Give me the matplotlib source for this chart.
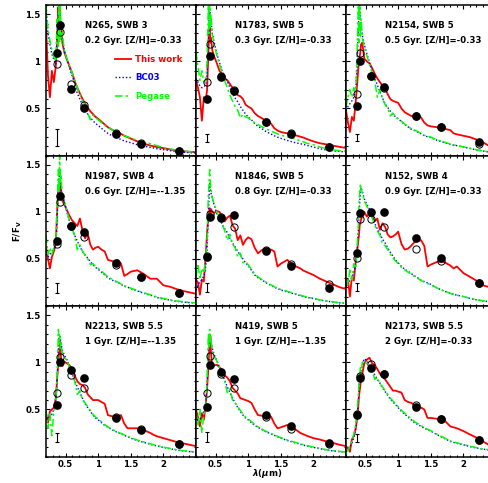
import matplotlib.pyplot as plt
from matplotlib.ticker import MultipleLocator

plt.rcParams['font.family'] = 'DejaVu Sans'
plt.rcParams['font.weight'] = 'bold'
plt.rcParams['font.size'] = 6.2
plt.rcParams['mathtext.fontset'] = 'custom'
plt.rcParams['mathtext.rm'] = 'DejaVu Sans:bold'
plt.rcParams['mathtext.it'] = 'DejaVu Sans:italic:bold'

# wavelength grid (micron) shared by all model curves
wave = [0.20, 0.23, 0.26, 0.29, 0.32, 0.35,
        0.37, 0.39, 0.40, 0.41, 0.42, 0.43,
        0.45, 0.48, 0.52, 0.56, 0.60, 0.64,
        0.68, 0.72, 0.76, 0.80, 0.84, 0.88,
        0.92, 0.96, 1.00, 1.05, 1.10, 1.15,
        1.20, 1.25, 1.30, 1.35, 1.40, 1.45,
        1.50, 1.60, 1.70, 1.80, 1.85, 1.90,
        2.00, 2.10, 2.20, 2.30, 2.40, 2.50]

# U B V I J H K
band_wave = [0.365, 0.42, 0.59, 0.775, 1.28, 1.65, 2.24]

# N265
n265_red = [1.40, 0.85, 0.62, 0.90, 0.78, 0.95, 1.20, 1.58, 1.45, 1.55, 1.35, 1.40,
            1.20, 1.10, 1.02, 0.95, 0.88, 0.79, 0.72, 0.66, 0.60, 0.55, 0.51, 0.47,
            0.44, 0.41, 0.39, 0.36, 0.33, 0.30, 0.28, 0.26, 0.245, 0.23, 0.21, 0.195,
            0.18, 0.15, 0.125, 0.106, 0.098, 0.09, 0.078, 0.065, 0.053, 0.045, 0.04, 0.035]
n265_bc03 = [1.55, 1.30, 1.18, 1.08, 1.02, 0.97, 1.30, 1.50, 1.55, 1.50, 1.45, 1.38,
             1.25, 1.12, 1.02, 0.93, 0.85, 0.76, 0.66, 0.60, 0.53, 0.48, 0.44, 0.40,
             0.37, 0.34, 0.32, 0.29, 0.26, 0.235, 0.215, 0.20, 0.185, 0.17, 0.155, 0.145,
             0.135, 0.115, 0.10, 0.085, 0.08, 0.072, 0.062, 0.052, 0.042, 0.036, 0.03, 0.026]
n265_peg = [1.60, 1.35, 1.22, 1.12, 1.05, 1.00, 1.45, 1.15, 1.60, 1.20, 1.60, 1.25,
            1.30, 1.12, 1.03, 0.95, 0.88, 0.80, 0.72, 0.65, 0.58, 0.54, 0.45, 0.38,
            0.43, 0.40, 0.38, 0.35, 0.32, 0.30, 0.28, 0.26, 0.245, 0.23, 0.21, 0.20,
            0.185, 0.16, 0.14, 0.125, 0.115, 0.105, 0.085, 0.07, 0.057, 0.048, 0.04, 0.035]
n265_obs = [1.09, 1.39, 0.71, 0.51, 0.23, 0.124, 0.046]
n265_mod = [0.975, 1.31, 0.755, 0.54, 0.235, 0.128, 0.05]

# N1783
n1783_red = [0.80, 0.72, 0.62, 0.37, 0.62, 0.58, 0.70, 1.10, 1.30, 1.38, 1.20, 1.25,
             1.12, 1.05, 0.98, 0.90, 0.86, 0.82, 0.80, 0.76, 0.72, 0.68, 0.64, 0.63,
             0.60, 0.54, 0.52, 0.50, 0.45, 0.42, 0.40, 0.38, 0.365, 0.34, 0.29, 0.265,
             0.25, 0.235, 0.22, 0.20, 0.19, 0.175, 0.15, 0.13, 0.118, 0.105, 0.092, 0.08]
n1783_bc03 = [0.82, 0.78, 0.74, 0.72, 0.73, 0.75, 0.85, 1.25, 1.45, 1.55, 1.50, 1.42,
              1.30, 1.20, 1.08, 0.99, 0.90, 0.84, 0.79, 0.72, 0.66, 0.61, 0.57, 0.52,
              0.48, 0.44, 0.41, 0.38, 0.34, 0.31, 0.29, 0.265, 0.245, 0.228, 0.21, 0.195,
              0.183, 0.16, 0.14, 0.125, 0.117, 0.108, 0.09, 0.072, 0.058, 0.05, 0.043, 0.038]
n1783_peg = [1.10, 0.95, 0.80, 0.90, 0.78, 0.80, 1.00, 1.60, 1.30, 1.60, 1.35, 1.50,
             1.28, 1.18, 1.06, 0.97, 0.88, 0.80, 0.72, 0.64, 0.58, 0.52, 0.48, 0.40,
             0.44, 0.41, 0.40, 0.37, 0.35, 0.33, 0.31, 0.29, 0.275, 0.26, 0.245, 0.23,
             0.215, 0.20, 0.18, 0.155, 0.145, 0.13, 0.115, 0.09, 0.075, 0.06, 0.05, 0.045]
n1783_obs = [0.60, 1.06, 0.83, 0.69, 0.355, 0.23, 0.089]
n1783_mod = [0.78, 1.19, 0.84, 0.70, 0.36, 0.235, 0.092]

# N2154
n2154_red = [0.48, 0.35, 0.25, 0.41, 0.37, 0.58, 0.75, 0.94, 0.98, 1.05, 1.10, 1.18,
             1.20, 1.03, 1.00, 0.98, 0.93, 0.87, 0.82, 0.78, 0.74, 0.71, 0.65, 0.60,
             0.58, 0.57, 0.56, 0.50, 0.46, 0.44, 0.42, 0.415, 0.41, 0.405, 0.35, 0.32,
             0.31, 0.30, 0.285, 0.27, 0.235, 0.225, 0.21, 0.195, 0.17, 0.14, 0.10, 0.085]
n2154_bc03 = [0.48, 0.52, 0.55, 0.58, 0.62, 0.72, 0.95, 1.35, 1.55, 1.60, 1.50, 1.40,
              1.28, 1.18, 1.08, 0.99, 0.90, 0.82, 0.75, 0.68, 0.61, 0.55, 0.51, 0.47,
              0.44, 0.41, 0.39, 0.36, 0.33, 0.305, 0.28, 0.265, 0.25, 0.23, 0.21, 0.20,
              0.19, 0.16, 0.14, 0.117, 0.11, 0.105, 0.09, 0.075, 0.06, 0.048, 0.035, 0.03]
n2154_peg = [0.51, 0.62, 0.70, 0.62, 0.72, 0.68, 1.10, 1.60, 1.20, 1.60, 1.25, 1.45,
             1.25, 1.15, 1.06, 0.97, 0.88, 0.80, 0.62, 0.70, 0.60, 0.54, 0.50, 0.42,
             0.45, 0.41, 0.39, 0.365, 0.335, 0.31, 0.285, 0.27, 0.255, 0.235, 0.215, 0.205,
             0.195, 0.165, 0.145, 0.12, 0.112, 0.106, 0.092, 0.077, 0.062, 0.05, 0.038, 0.032]
n2154_obs = [0.53, 1.00, 0.85, 0.73, 0.42, 0.30, 0.14]
n2154_mod = [0.65, 1.09, 0.85, 0.72, 0.42, 0.30, 0.117]

# N1987
n1987_red = [0.62, 0.50, 0.40, 0.52, 0.58, 0.66, 1.00, 1.25, 1.30, 1.35, 1.15, 1.25,
             1.12, 1.08, 1.02, 0.96, 0.91, 0.88, 0.85, 0.93, 0.80, 0.72, 0.77, 0.65,
             0.60, 0.62, 0.63, 0.60, 0.58, 0.49, 0.48, 0.47, 0.49, 0.45, 0.32, 0.34,
             0.365, 0.38, 0.34, 0.29, 0.29, 0.29, 0.22, 0.205, 0.18, 0.16, 0.145, 0.13]
n1987_bc03 = [0.55, 0.52, 0.55, 0.58, 0.60, 0.63, 0.90, 1.30, 1.40, 1.38, 1.30, 1.25,
              1.18, 1.12, 1.00, 0.90, 0.82, 0.75, 0.69, 0.63, 0.58, 0.54, 0.51, 0.47,
              0.44, 0.41, 0.39, 0.36, 0.33, 0.30, 0.28, 0.265, 0.25, 0.23, 0.21, 0.20,
              0.185, 0.16, 0.135, 0.115, 0.105, 0.09, 0.075, 0.062, 0.05, 0.042, 0.036, 0.032]
n1987_peg = [0.75, 0.55, 0.62, 0.55, 0.62, 0.65, 1.05, 1.45, 1.20, 1.60, 1.30, 1.40,
             1.15, 1.10, 1.01, 0.91, 0.83, 0.74, 0.60, 0.65, 0.58, 0.54, 0.50, 0.44,
             0.45, 0.42, 0.40, 0.37, 0.34, 0.31, 0.29, 0.27, 0.255, 0.235, 0.215, 0.205,
             0.19, 0.165, 0.14, 0.12, 0.11, 0.095, 0.08, 0.066, 0.054, 0.045, 0.038, 0.034]
n1987_obs = [0.695, 1.17, 0.85, 0.79, 0.454, 0.31, 0.135]
n1987_mod = [0.656, 1.11, 0.85, 0.73, 0.436, 0.31, 0.135]

# N1846
n1846_red = [0.28, 0.25, 0.12, 0.28, 0.26, 0.55, 0.78, 0.95, 1.00, 1.04, 0.98, 1.03,
             1.00, 0.99, 1.01, 1.00, 0.95, 0.90, 0.94, 0.96, 0.86, 0.82, 0.70, 0.75,
             0.65, 0.70, 0.73, 0.71, 0.62, 0.56, 0.59, 0.61, 0.60, 0.60, 0.58, 0.42,
             0.45, 0.49, 0.43, 0.40, 0.375, 0.36, 0.33, 0.29, 0.26, 0.23, 0.20, 0.18]
n1846_bc03 = [0.17, 0.22, 0.26, 0.28, 0.32, 0.42, 0.60, 1.00, 1.15, 1.30, 1.25, 1.20,
              1.15, 1.07, 0.98, 0.93, 0.87, 0.82, 0.78, 0.72, 0.67, 0.63, 0.58, 0.54,
              0.50, 0.46, 0.43, 0.38, 0.33, 0.30, 0.28, 0.26, 0.235, 0.22, 0.20, 0.185,
              0.17, 0.15, 0.13, 0.11, 0.10, 0.09, 0.08, 0.064, 0.052, 0.042, 0.033, 0.03]
n1846_peg = [0.30, 0.45, 0.28, 0.40, 0.35, 0.50, 0.70, 1.20, 1.30, 1.45, 1.30, 1.25,
             1.15, 1.08, 1.00, 0.94, 0.88, 0.80, 0.70, 0.76, 0.66, 0.62, 0.52, 0.56,
             0.46, 0.47, 0.44, 0.39, 0.34, 0.31, 0.285, 0.265, 0.24, 0.225, 0.205, 0.19,
             0.175, 0.155, 0.135, 0.115, 0.105, 0.095, 0.082, 0.066, 0.054, 0.044, 0.035, 0.031]
n1846_obs = [0.52, 0.95, 0.94, 0.97, 0.58, 0.42, 0.19]
n1846_mod = [0.53, 0.975, 0.95, 0.84, 0.60, 0.45, 0.23]

# N152
n152_red = [0.20, 0.28, 0.10, 0.31, 0.27, 0.48, 0.58, 0.70, 0.76, 0.86, 0.88, 0.92,
            0.96, 1.00, 0.95, 0.99, 0.95, 0.90, 0.93, 0.81, 0.88, 0.84, 0.76, 0.73,
            0.74, 0.76, 0.79, 0.66, 0.60, 0.61, 0.64, 0.68, 0.69, 0.70, 0.64, 0.42,
            0.44, 0.47, 0.47, 0.43, 0.40, 0.42, 0.35, 0.31, 0.27, 0.22, 0.20, 0.18]
n152_bc03 = [0.24, 0.25, 0.27, 0.30, 0.36, 0.45, 0.58, 0.80, 0.95, 1.10, 1.20, 1.26,
             1.22, 1.14, 1.08, 1.03, 0.96, 0.88, 0.82, 0.77, 0.71, 0.67, 0.62, 0.57,
             0.53, 0.49, 0.46, 0.42, 0.39, 0.37, 0.345, 0.32, 0.30, 0.275, 0.26, 0.245,
             0.23, 0.19, 0.16, 0.135, 0.125, 0.115, 0.10, 0.08, 0.065, 0.055, 0.045, 0.04]
n152_peg = [0.30, 0.22, 0.40, 0.28, 0.45, 0.40, 0.62, 0.85, 1.10, 1.20, 1.30, 1.25,
            1.20, 1.12, 1.06, 1.01, 0.94, 0.86, 0.80, 0.75, 0.66, 0.64, 0.60, 0.55,
            0.51, 0.48, 0.45, 0.41, 0.385, 0.36, 0.34, 0.315, 0.295, 0.27, 0.255, 0.24,
            0.225, 0.19, 0.16, 0.135, 0.125, 0.115, 0.10, 0.082, 0.067, 0.056, 0.046, 0.041]
n152_obs = [0.567, 0.986, 0.996, 0.996, 0.727, 0.507, 0.248]
n152_mod = [0.514, 0.93, 0.93, 0.84, 0.606, 0.48, 0.24]

# N2213
n2213_red = [0.46, 0.36, 0.48, 0.50, 0.52, 0.62, 0.82, 1.00, 1.10, 1.15, 1.22, 1.05,
             0.96, 1.01, 0.99, 0.97, 0.93, 0.86, 0.80, 0.77, 0.76, 0.73, 0.66, 0.63,
             0.60, 0.60, 0.60, 0.58, 0.56, 0.44, 0.43, 0.425, 0.43, 0.44, 0.35, 0.30,
             0.30, 0.30, 0.28, 0.25, 0.23, 0.215, 0.195, 0.175, 0.155, 0.14, 0.125, 0.11]
n2213_bc03 = [0.45, 0.40, 0.42, 0.45, 0.50, 0.58, 0.80, 1.15, 1.28, 1.30, 1.25, 1.20,
              1.13, 1.08, 1.03, 0.96, 0.88, 0.81, 0.74, 0.68, 0.62, 0.56, 0.52, 0.48,
              0.44, 0.41, 0.39, 0.36, 0.33, 0.31, 0.29, 0.27, 0.255, 0.24, 0.225, 0.21,
              0.195, 0.17, 0.15, 0.13, 0.12, 0.112, 0.097, 0.083, 0.07, 0.06, 0.052, 0.046]
n2213_peg = [0.50, 0.30, 0.45, 0.22, 0.48, 0.55, 0.85, 1.35, 1.20, 1.30, 1.15, 1.20,
             1.10, 1.06, 1.02, 0.95, 0.87, 0.80, 0.66, 0.70, 0.60, 0.57, 0.53, 0.49,
             0.45, 0.42, 0.40, 0.37, 0.34, 0.315, 0.295, 0.275, 0.26, 0.245, 0.23, 0.215,
             0.20, 0.175, 0.155, 0.135, 0.125, 0.117, 0.10, 0.086, 0.073, 0.062, 0.054, 0.048]
n2213_obs = [0.55, 1.00, 0.92, 0.833, 0.41, 0.284, 0.135]
n2213_mod = [0.67, 1.06, 0.87, 0.727, 0.425, 0.29, 0.135]

# N419
n419_red = [0.50, 0.42, 0.32, 0.46, 0.39, 0.56, 0.72, 0.95, 1.10, 1.18, 1.28, 1.10,
            0.96, 0.97, 0.975, 0.95, 0.92, 0.86, 0.84, 0.80, 0.73, 0.70, 0.67, 0.62,
            0.61, 0.60, 0.59, 0.57, 0.50, 0.44, 0.435, 0.43, 0.43, 0.425, 0.35, 0.30,
            0.31, 0.335, 0.30, 0.25, 0.235, 0.22, 0.195, 0.18, 0.16, 0.145, 0.125, 0.11]
n419_bc03 = [0.42, 0.38, 0.40, 0.43, 0.48, 0.56, 0.78, 1.12, 1.25, 1.30, 1.28, 1.22,
             1.15, 1.08, 1.02, 0.95, 0.88, 0.81, 0.74, 0.68, 0.62, 0.57, 0.52, 0.48,
             0.44, 0.41, 0.39, 0.36, 0.33, 0.31, 0.29, 0.27, 0.255, 0.24, 0.225, 0.21,
             0.195, 0.17, 0.15, 0.13, 0.12, 0.112, 0.097, 0.083, 0.07, 0.06, 0.052, 0.046]
n419_peg = [0.48, 0.32, 0.50, 0.25, 0.45, 0.52, 0.82, 1.30, 1.15, 1.35, 1.20, 1.25,
            1.12, 1.07, 1.01, 0.95, 0.87, 0.80, 0.68, 0.72, 0.60, 0.57, 0.53, 0.49,
            0.45, 0.42, 0.40, 0.37, 0.34, 0.315, 0.295, 0.275, 0.26, 0.245, 0.23, 0.215,
            0.20, 0.175, 0.155, 0.135, 0.125, 0.117, 0.10, 0.086, 0.073, 0.062, 0.054, 0.048]
n419_obs = [0.53, 0.97, 0.90, 0.826, 0.436, 0.32, 0.142]
n419_mod = [0.67, 1.07, 0.88, 0.727, 0.42, 0.29, 0.135]

# N2173
n2173_red = [0.106, 0.09, 0.05, 0.18, 0.22, 0.30, 0.40, 0.55, 0.65, 0.70, 0.76, 0.82,
             0.88, 0.99, 1.03, 1.05, 0.99, 0.975, 0.93, 0.88, 0.85, 0.82, 0.78, 0.74,
             0.70, 0.70, 0.69, 0.68, 0.60, 0.58, 0.57, 0.55, 0.53, 0.52, 0.50, 0.41,
             0.41, 0.40, 0.39, 0.32, 0.31, 0.30, 0.27, 0.235, 0.20, 0.16, 0.12, 0.10]
n2173_bc03 = [0.05, 0.08, 0.10, 0.14, 0.20, 0.30, 0.42, 0.60, 0.72, 0.80, 0.88, 0.92,
              0.97, 1.04, 1.02, 0.97, 0.92, 0.87, 0.82, 0.78, 0.73, 0.69, 0.65, 0.61,
              0.58, 0.55, 0.52, 0.48, 0.45, 0.42, 0.39, 0.36, 0.34, 0.32, 0.30, 0.285,
              0.27, 0.23, 0.195, 0.16, 0.15, 0.14, 0.124, 0.105, 0.09, 0.078, 0.068, 0.06]
n2173_peg = [0.08, 0.06, 0.12, 0.16, 0.24, 0.34, 0.48, 0.65, 0.80, 0.85, 0.95, 0.90,
             1.00, 1.02, 0.98, 0.90, 0.94, 0.82, 0.84, 0.77, 0.74, 0.70, 0.66, 0.62,
             0.59, 0.56, 0.53, 0.49, 0.46, 0.43, 0.40, 0.37, 0.35, 0.33, 0.31, 0.29,
             0.275, 0.235, 0.20, 0.165, 0.155, 0.145, 0.128, 0.11, 0.094, 0.08, 0.07, 0.062]
n2173_obs = [0.443, 0.833, 0.94, 0.88, 0.53, 0.40, 0.177]
n2173_mod = [0.45, 0.86, 0.985, 0.88, 0.546, 0.40, 0.177]

names = ['N265, SWB 3', 'N1783, SWB 5', 'N2154, SWB 5',
         'N1987, SWB 4', 'N1846, SWB 5', 'N152, SWB 4',
         'N2213, SWB 5.5', 'N419, SWB 5', 'N2173, SWB 5.5']
ages = ['0.2 Gyr. [Z/H]=-0.33', '0.3 Gyr. [Z/H]=-0.33', '0.5 Gyr. [Z/H]=-0.33',
        '0.6 Gyr. [Z/H]=--1.35', '0.8 Gyr. [Z/H]=-0.33', '0.9 Gyr. [Z/H]=-0.33',
        '1 Gyr. [Z/H]=--1.35', '1 Gyr. [Z/H]=--1.35', '2 Gyr. [Z/H]=-0.33']

# typical error bar drawn in each panel
err_x = 0.37
err_y = [0.195, 0.186, 0.19, 0.19, 0.196, 0.20, 0.20, 0.21, 0.20]
err_h = [0.09, 0.044, 0.04, 0.053, 0.044, 0.04, 0.05, 0.053, 0.044]

red = [n265_red, n1783_red, n2154_red, n1987_red, n1846_red, n152_red, n2213_red, n419_red, n2173_red]
bc03 = [n265_bc03, n1783_bc03, n2154_bc03, n1987_bc03, n1846_bc03, n152_bc03, n2213_bc03, n419_bc03, n2173_bc03]
peg = [n265_peg, n1783_peg, n2154_peg, n1987_peg, n1846_peg, n152_peg, n2213_peg, n419_peg, n2173_peg]
obs = [n265_obs, n1783_obs, n2154_obs, n1987_obs, n1846_obs, n152_obs, n2213_obs, n419_obs, n2173_obs]
mod = [n265_mod, n1783_mod, n2154_mod, n1987_mod, n1846_mod, n152_mod, n2213_mod, n419_mod, n2173_mod]

fig = plt.figure(figsize=(4.88, 4.83), dpi=100)
W, H = 488.0, 483.0

for k in range(9):
    row, col = divmod(k, 3)
    ax = fig.add_axes([(46 + 150 * col) / W, 1 - (5 + 150.5 * (row + 1)) / H, 150 / W, 150.5 / H])
    ax.plot(wave, red[k], color='red', lw=1.3, label='This work')
    ax.plot(wave, bc03[k], color='blue', lw=1.0, ls=(0, (1, 1.5)), label='BC03')
    ax.plot(wave, peg[k], color='#00ff00', lw=1.1, ls=(0, (5, 2, 1.5, 2)), label='Pegase')
    ax.errorbar([err_x], [err_y[k]], yerr=[err_h[k]], color='black', lw=0.8, capsize=1.5, capthick=0.8)
    ax.plot(band_wave, obs[k], 'o', color='black', ms=5.2)
    ax.plot(band_wave, mod[k], 'o', mfc='none', mec='black', ms=5.2, mew=0.7)
    ax.set_xlim(0.2, 2.5)
    ax.set_ylim(0, 1.6)
    ax.set_xticks([0.5, 1, 1.5, 2])
    ax.set_yticks([0.5, 1, 1.5])
    ax.xaxis.set_minor_locator(MultipleLocator(0.1))
    ax.yaxis.set_minor_locator(MultipleLocator(0.1))
    ax.tick_params(which='both', direction='in', top=True, right=True, width=0.8)
    ax.tick_params(which='major', length=3.2)
    ax.tick_params(which='minor', length=1.6)
    ax.tick_params(axis='y', pad=4)
    ax.tick_params(axis='x', pad=2.5)
    for s in ax.spines.values():
        s.set_linewidth(1.1)
    if col == 0:
        ax.set_yticklabels(['0.5', '1', '1.5'])
    else:
        ax.tick_params(labelleft=False)
    if row == 2:
        ax.set_xticklabels(['0.5', '1', '1.5', '2'])
    else:
        ax.tick_params(labelbottom=False)
    ax.text(0.26, 0.862, names[k], transform=ax.transAxes, ha='left', va='center')
    ax.text(0.26, 0.762, ages[k], transform=ax.transAxes, ha='left', va='center')
    if k == 0:
        ax.legend(loc='upper left', bbox_to_anchor=(0.46, 0.67), frameon=False,
                  labelcolor='linecolor', handlelength=1.8, handletextpad=0.5,
                  labelspacing=1.1, borderpad=0, borderaxespad=0)

fig.text(18 / W, 1 - 231 / H, r'F/F$_{\rm V}$', rotation=90, ha='center', va='center')
fig.text(267 / W, 1 - 474 / H, r'$\lambda$($\mu$m)', ha='center', va='center')

fig.savefig('out.png', dpi=100)
